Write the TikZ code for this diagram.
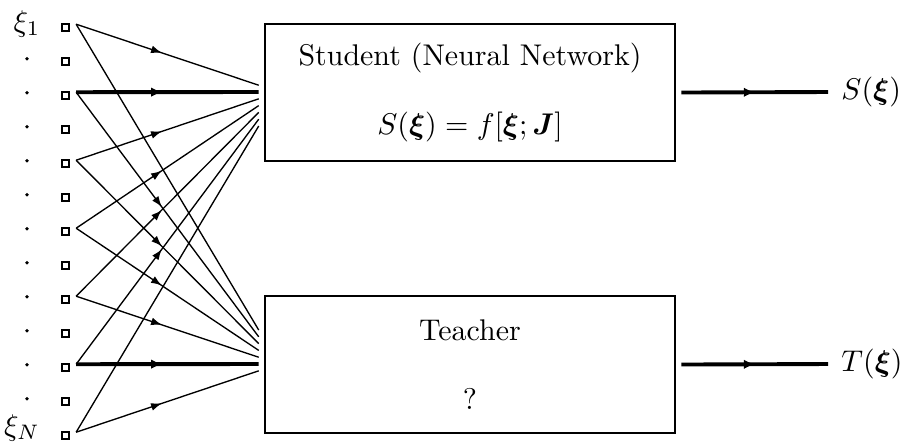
\documentclass[tikz,border=0pt]{standalone}
\usepackage{amsmath,amssymb}
\usepackage{tikz}
\usetikzlibrary{positioning,arrows.meta,calc,decorations.markings}
\tikzset{
  inbox/.style={draw, line width=0.7pt, minimum size=2.4pt, inner sep=0pt},
  dotnode/.style={circle, fill, minimum size=1.2pt, inner sep=0pt},
  netbox/.style={draw, line width=0.9pt, align=center, minimum width=136.9pt, minimum height=45.8pt, inner sep=0pt},
  outlab/.style={anchor=west, inner xsep=4.3pt, inner ysep=0pt},
  wire/.style={line width=0.45pt},
  bus/.style={line width=1.3pt},
  midarr/.style={postaction={decorate}, decoration={markings, mark=at position #1 with {\arrow{Latex[length=3.6pt,width=2.6pt]}}}},
  midarr/.default=0.47,
  busarr/.style={postaction={decorate}, decoration={markings, mark=at position #1 with {\arrow{Latex[length=3.6pt,width=3.2pt]}}}},
  busarr/.default=0.47,
}

\begin{document}
\begin{tikzpicture}[x=0.334pt, y=-0.334pt]
  \useasboundingbox (0,0) rectangle (903,442);
  % input units
  \foreach \i in {1,...,13} {
    \node[inbox] (in\i) at (65.5, {27.7+34*(\i-1)}) {};
    \coordinate (out\i) at ($(in\i.east)+(6,-3.5)$);
  }
  \foreach \i in {2,...,12} \node[dotnode] (dot\i) at ($(in\i)+(-38.5,-3)$) {};
  \node (xione) at (27, 24) {$\xi_1$};
  \node (xiN) at (22, 428) {$\xi_N$};
  % networks
  \node[netbox] (stu) at (470, 92.5) {Student (Neural Network)\\[11pt] $S(\boldsymbol{\xi}) = f[\boldsymbol{\xi};\boldsymbol{J}]$};
  \node[netbox] (tea) at (470, 364.5) {Teacher\\[11pt] ?};
  \foreach \k in {0,...,6} {
    \coordinate (sin\k) at ($(stu.west)+(-5,{(\k-1)*6.8-0.5})$);
    \coordinate (tin\k) at ($(tea.west)+(-5,{(\k-5)*6.8-0.5})$);
  }
  % connections to the student
  \foreach \k/\r in {0/1,2/5,3/7,4/9,5/11} \draw[wire, midarr] (out\r) -- (sin\k);
  \draw[bus, busarr] (out3) -- (sin1);
  \draw[wire] (out13) -- (sin6);
  % connections to the teacher
  \foreach \k/\r in {1/3,2/5,3/7,4/9,6/13} \draw[wire, midarr] (out\r) -- (tin\k);
  \draw[bus, busarr] (out11) -- (tin5);
  \draw[wire] (out1) -- (tin0);
  % outputs
  \node[outlab] (sout) at (828, 92) {$S(\boldsymbol{\xi})$};
  \node[outlab] (tout) at (828, 364) {$T(\boldsymbol{\xi})$};
  \draw[bus, busarr=0.5] ($(stu.east)+(5,0)$) -- (sout.west);
  \draw[bus, busarr=0.5] ($(tea.east)+(5,0)$) -- (tout.west);
\end{tikzpicture}
\end{document}
